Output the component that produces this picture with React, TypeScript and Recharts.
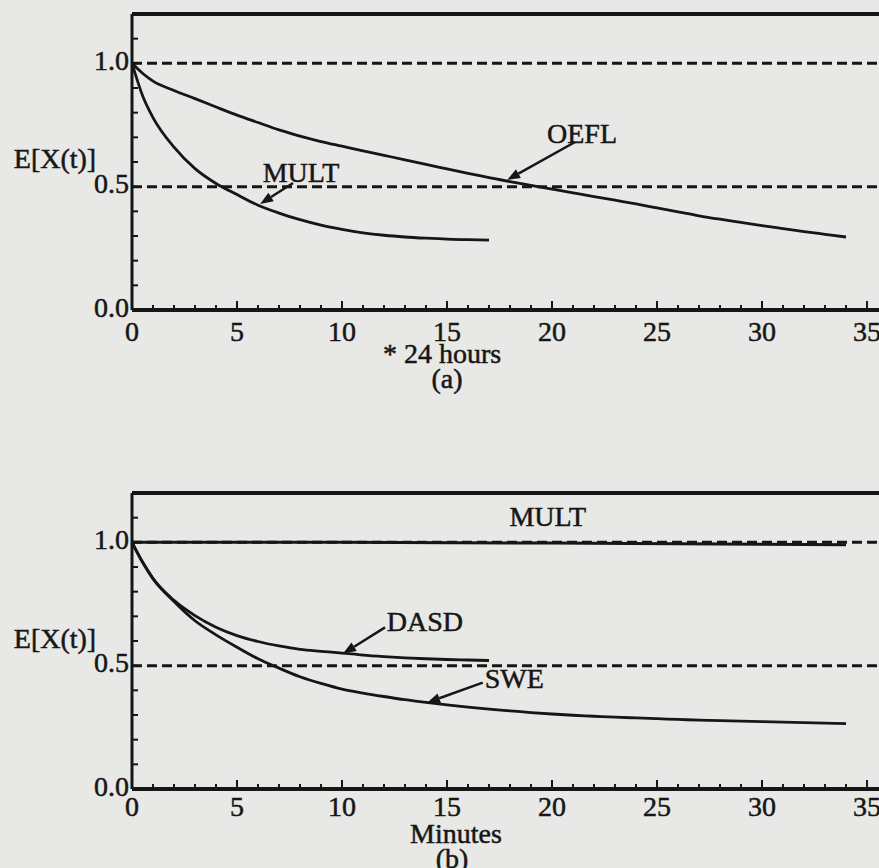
import React from 'react'
import { LineChart, Line, XAxis, YAxis, ReferenceLine, ReferenceDot } from 'recharts'

const INK = '#161616'
const PAPER = '#e8e8e6'
const FONT = '"Liberation Serif", "Times New Roman", serif'

// time axis (days*24h for (a), minutes for (b))
const longT = [0, 0.5, 1, 2, 3, 4, 5, 6, 7, 8, 9, 10, 11, 12, 13, 14, 15, 16, 17, 18, 19, 20, 21, 22, 23, 24, 25, 26, 27, 28, 29, 30, 31, 32, 33, 34]
const shortT = [0, 0.5, 1, 2, 3, 4, 5, 6, 7, 8, 9, 10, 11, 12, 13, 14, 15, 16, 17]

// panel (a)
const oeflA = [1.0, 0.96, 0.928, 0.89, 0.857, 0.823, 0.79, 0.76, 0.73, 0.705, 0.683, 0.664, 0.645, 0.627, 0.609, 0.59, 0.572, 0.554, 0.537, 0.52, 0.505, 0.49, 0.475, 0.46, 0.445, 0.43, 0.414, 0.398, 0.382, 0.368, 0.355, 0.342, 0.33, 0.318, 0.307, 0.296]
const multA = [1.0, 0.87, 0.78, 0.66, 0.573, 0.513, 0.468, 0.425, 0.393, 0.366, 0.344, 0.327, 0.313, 0.303, 0.296, 0.291, 0.287, 0.285, 0.283]

// panel (b)
const multBT = [0, 10, 20, 30, 34]
const multB = [1.0, 1.0, 0.997, 0.992, 0.99]
const dasdB = [1.0, 0.92, 0.853, 0.765, 0.703, 0.656, 0.622, 0.598, 0.58, 0.566, 0.558, 0.551, 0.543, 0.537, 0.532, 0.528, 0.525, 0.523, 0.521]
const sweB = [1.0, 0.92, 0.853, 0.76, 0.682, 0.625, 0.575, 0.528, 0.49, 0.455, 0.428, 0.405, 0.389, 0.375, 0.362, 0.351, 0.341, 0.332, 0.324, 0.317, 0.31, 0.304, 0.299, 0.295, 0.291, 0.288, 0.285, 0.282, 0.279, 0.277, 0.275, 0.273, 0.271, 0.269, 0.267, 0.265]

const xTicks = [0, 1, 2, 3, 4, 5, 6, 7, 8, 9, 10, 11, 12, 13, 14, 15, 16, 17, 18, 19, 20, 21, 22, 23, 24, 25, 26, 27, 28, 29, 30, 31, 32, 33, 34, 35]
const yTicks = [0, 0.1, 0.2, 0.3, 0.4, 0.5, 0.6, 0.7, 0.8, 0.9, 1.0, 1.1, 1.2]
const yLabels = ['0.0', '0.5', '1.0']

const X_MAX = 35.57
const Y_MAX = 1.2

const rows = (t: number[], v: number[]) => t.map((x, i) => ({ t: x, v: v[i] }))

const textStyle = { fontFamily: FONT, fontSize: 28, fill: INK, stroke: INK, strokeWidth: 0.5 }

function xTick(dy: number) {
  return (p: any) => {
    const v = p.payload.value
    const major = v % 5 === 0
    return (
      <g>
        <line x1={p.x} x2={p.x} y1={p.y} y2={p.y - (major ? 9 : 5)} stroke={INK} strokeWidth={2} />
        {major && (
          <text x={p.x} y={p.y + dy} textAnchor="middle" dominantBaseline="central" {...textStyle}>
            {v}
          </text>
        )}
      </g>
    )
  }
}

function yTick(p: any) {
  const label = p.payload.value.toFixed(1)
  return (
    <g>
      <line x1={p.x} x2={p.x + 6} y1={p.y} y2={p.y} stroke={INK} strokeWidth={2} />
      {yLabels.includes(label) && (
        <text x={p.x - 3} y={p.y - 3} textAnchor="end" dominantBaseline="central" {...textStyle}>
          {label}
        </text>
      )}
    </g>
  )
}

function Arrow(p: any) {
  const { x1, y1, x2, y2 } = p
  const a = Math.atan2(y2 - y1, x2 - x1)
  const len = 13
  const w = 5
  const bx = x2 - len * Math.cos(a)
  const by = y2 - len * Math.sin(a)
  const pts = [
    [x2, y2],
    [bx + w * Math.sin(a), by - w * Math.cos(a)],
    [bx - w * Math.sin(a), by + w * Math.cos(a)],
  ]
  return (
    <g>
      <line x1={x1} y1={y1} x2={bx} y2={by} stroke={INK} strokeWidth={2.5} />
      <polygon points={pts.map((q) => q.join(',')).join(' ')} fill={INK} />
    </g>
  )
}

const note = (text: string) => (p: any) => (
  <text x={p.cx} y={p.cy} textAnchor="middle" dominantBaseline="central" {...textStyle}>
    {text}
  </text>
)

const arrow = (x1: number, y1: number, x2: number, y2: number) => (
  <ReferenceLine
    key={`arr-${x1}-${y1}`}
    segment={[{ x: x1, y: y1 }, { x: x2, y: y2 }]}
    shape={(p: any) => <Arrow {...p} />}
  />
)

const label = (text: string, x: number, y: number) => (
  <ReferenceDot key={`lbl-${text}`} x={x} y={y} r={0} shape={note(text)} />
)

function Panel({ top, tickDy, caption, ylabelDy, children }: any) {
  return (
    <div style={{ position: 'absolute', left: 0, top }}>
      <LineChart width={879} height={400} margin={{ top: 14, right: 0, left: 72, bottom: 30 }}>
        <XAxis
          type="number"
          dataKey="t"
          domain={[0, X_MAX]}
          allowDataOverflow
          ticks={xTicks}
          interval={0}
          tickLine={false}
          tickSize={0}
          tickMargin={0}
          height={60}
          axisLine={{ stroke: INK, strokeWidth: 4 }}
          tick={xTick(tickDy)}
          label={caption}
        />
        <YAxis
          type="number"
          domain={[0, Y_MAX]}
          allowDataOverflow
          ticks={yTicks}
          interval={0}
          tickLine={false}
          tickSize={0}
          tickMargin={0}
          width={60}
          axisLine={{ stroke: INK, strokeWidth: 3 }}
          tick={yTick}
          label={(p: any) => (
            <text
              x={p.viewBox.x - 17}
              y={p.viewBox.y + ylabelDy}
              textAnchor="middle"
              dominantBaseline="central"
              {...textStyle}
            >
              E[X(t)]
            </text>
          )}
        />
        <ReferenceLine y={Y_MAX} stroke={INK} strokeWidth={4} />
        <ReferenceLine y={1} stroke={INK} strokeWidth={3} strokeDasharray="10 5" />
        <ReferenceLine y={0.5} stroke={INK} strokeWidth={3} strokeDasharray="10 5" />
        {children}
      </LineChart>
    </div>
  )
}

export default function App() {
  return (
    <div
      style={{
        position: 'absolute',
        left: 0,
        top: 0,
        width: 879,
        height: 868,
        overflow: 'hidden',
        background: PAPER,
      }}
    >
      <Panel
        top={0}
        tickDy={21}
        ylabelDy={144}
        caption={(p: any) => (
          <g>
            <text x={p.viewBox.x + 310} y={p.viewBox.y + 43} textAnchor="middle" dominantBaseline="central" {...textStyle}>
              * 24 hours
            </text>
            <text x={p.viewBox.x + 315} y={p.viewBox.y + 68} textAnchor="middle" dominantBaseline="central" {...textStyle}>
              (a)
            </text>
          </g>
        )}
      >
        <Line data={rows(longT, oeflA)} dataKey="v" type="monotone" stroke={INK} strokeWidth={2.8} dot={false} isAnimationActive={false} />
        <Line data={rows(shortT, multA)} dataKey="v" type="monotone" stroke={INK} strokeWidth={2.8} dot={false} isAnimationActive={false} />
        {label('MULT', 8.05, 0.559)}
        {arrow(7.67, 0.515, 6.1, 0.43)}
        {label('OEFL', 21.43, 0.717)}
        {arrow(21.1, 0.681, 17.86, 0.527)}
      </Panel>
      <Panel
        top={479}
        tickDy={17}
        ylabelDy={145}
        caption={(p: any) => (
          <g>
            <text x={p.viewBox.x + 324} y={p.viewBox.y + 44} textAnchor="middle" dominantBaseline="central" {...textStyle}>
              Minutes
            </text>
            <text x={p.viewBox.x + 320} y={p.viewBox.y + 69} textAnchor="middle" dominantBaseline="central" {...textStyle}>
              (b)
            </text>
          </g>
        )}
      >
        <Line data={rows(multBT, multB)} dataKey="v" type="monotone" stroke={INK} strokeWidth={3} dot={false} isAnimationActive={false} />
        <Line data={rows(shortT, dasdB)} dataKey="v" type="monotone" stroke={INK} strokeWidth={2.8} dot={false} isAnimationActive={false} />
        <Line data={rows(longT, sweB)} dataKey="v" type="monotone" stroke={INK} strokeWidth={2.8} dot={false} isAnimationActive={false} />
        {label('MULT', 19.8, 1.103)}
        {label('DASD', 13.95, 0.679)}
        {arrow(12.05, 0.655, 10.05, 0.549)}
        {label('SWE', 18.2, 0.448)}
        {arrow(16.7, 0.431, 14.05, 0.35)}
      </Panel>
    </div>
  )
}
